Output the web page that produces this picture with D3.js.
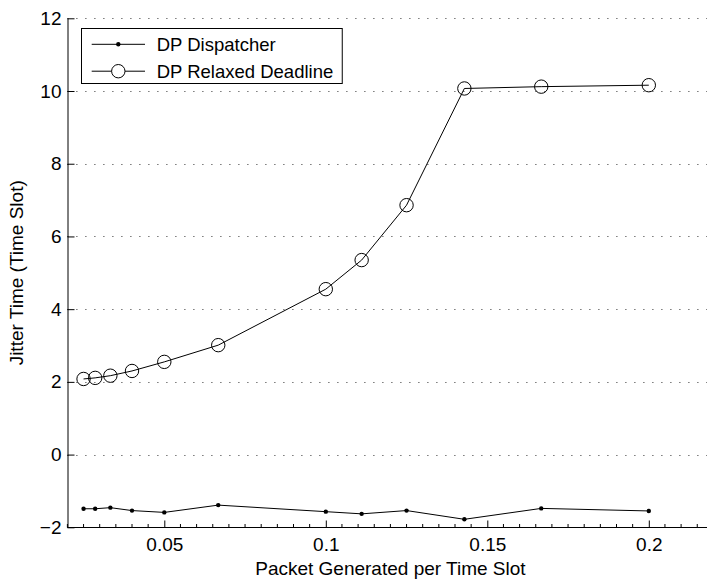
<!DOCTYPE html>
<html>
<head>
<meta charset="utf-8">
<script src="https://cdn.jsdelivr.net/npm/d3@7"></script>
<style>
  body { margin: 0; background: #fff; }
  text { font-family: "Liberation Sans", Arial, sans-serif; fill: #000; }
</style>
</head>
<body>
<div id="chart"></div>
<script>
// Jitter time vs packet generation rate (MATLAB-style line plot)

// Data
const rates = [0.025, 0.0286, 0.0333, 0.04, 0.05, 0.0667, 0.1, 0.1111, 0.125, 0.1429, 0.1667, 0.2];
const dispatcher = [-1.49, -1.49, -1.46, -1.54, -1.59, -1.39, -1.57, -1.63, -1.54, -1.78, -1.48, -1.55];
const relaxed = [2.08, 2.11, 2.17, 2.30, 2.55, 3.01, 4.55, 5.35, 6.86, 10.07, 10.12, 10.16];
const seriesNames = ["DP Dispatcher", "DP Relaxed Deadline"];
const xTicks = [0.05, 0.1, 0.15, 0.2];
const xTickLabels = ["0.05", "0.1", "0.15", "0.2"];
const yTicks = [-2, 0, 2, 4, 6, 8, 10, 12];

// Chart dimensions
const width = 707;
const height = 582;
const plotLeft = 67.4, plotRight = 713.4, plotTop = 18.3, plotBottom = 527.3;
const fontSize = 19;

const graph = d3.create("svg")
    .attr("width", width)
    .attr("height", height);

// Scales
const xscale = d3.scaleLinear().domain([0.02, 0.22]).range([plotLeft, plotRight]);
const yscale = d3.scaleLinear().domain([-2, 12]).range([plotBottom, plotTop]);

// Dotted horizontal grid
graph.append("g")
    .selectAll("line")
    .data(yTicks)
    .join("line")
    .attr("x1", plotLeft)
    .attr("x2", width)
    .attr("y1", d => Math.round(yscale(d)) + 0.5)
    .attr("y2", d => Math.round(yscale(d)) + 0.5)
    .attr("stroke", "#333")
    .attr("stroke-width", 1)
    .attr("stroke-dasharray", "1,8");

// x axis: ticks point inward (up), plus minor ticks
const xAxis = graph.append("g")
    .attr("transform", `translate(0, ${Math.round(plotBottom) + 0.5})`)
    .call(d3.axisBottom(xscale)
        .tickValues(xTicks)
        .tickFormat((d, i) => xTickLabels[i])
        .tickSizeInner(-7)
        .tickSizeOuter(0)
        .tickPadding(10));
xAxis.select(".domain").attr("d", `M${plotLeft},0H${width}`).attr("stroke", "#000");
xAxis.selectAll("text").attr("font-size", fontSize).attr("font-family", null);

const minor = d3.range(0.02, 0.2201, 0.005).filter(v => !xTicks.some(t => Math.abs(t - v) < 1e-6));
xAxis.selectAll(".minor")
    .data(minor)
    .join("line")
    .attr("class", "minor")
    .attr("x1", d => xscale(d))
    .attr("x2", d => xscale(d))
    .attr("y1", 0)
    .attr("y2", -3.5)
    .attr("stroke", "#000");

// y axis
const yAxis = graph.append("g")
    .attr("transform", `translate(${Math.round(plotLeft) + 0.5},0)`)
    .call(d3.axisLeft(yscale)
        .tickValues(yTicks)
        .tickSizeInner(-7)
        .tickSizeOuter(0)
        .tickPadding(6));
yAxis.select(".domain").attr("stroke", "#000");
yAxis.selectAll("text").attr("font-size", fontSize).attr("font-family", null);

// Axis titles
graph.append("text")
    .attr("x", (plotLeft + plotRight) / 2)
    .attr("y", 575)
    .attr("text-anchor", "middle")
    .attr("font-size", fontSize)
    .text("Packet Generated per Time Slot");

graph.append("text")
    .attr("transform", `translate(23, ${(plotTop + plotBottom) / 2}) rotate(-90)`)
    .attr("text-anchor", "middle")
    .attr("font-size", fontSize)
    .text("Jitter Time (Time Slot)");

// Lines
const line = d3.line()
    .x((d, i) => xscale(rates[i]))
    .y(d => yscale(d));

graph.append("path")
    .attr("fill", "none")
    .attr("stroke", "#000")
    .attr("stroke-width", 1)
    .attr("d", line(dispatcher));

graph.append("path")
    .attr("fill", "none")
    .attr("stroke", "#000")
    .attr("stroke-width", 1)
    .attr("d", line(relaxed));

// Markers
graph.append("g")
    .selectAll("circle")
    .data(dispatcher)
    .join("circle")
    .attr("cx", (d, i) => xscale(rates[i]))
    .attr("cy", d => yscale(d))
    .attr("r", 2.2)
    .attr("fill", "#000");

graph.append("g")
    .selectAll("circle")
    .data(relaxed)
    .join("circle")
    .attr("cx", (d, i) => xscale(rates[i]))
    .attr("cy", d => yscale(d))
    .attr("r", 6.7)
    .attr("fill", "none")
    .attr("stroke", "#000")
    .attr("stroke-width", 1);

// Legend
const legend = graph.append("g");
const box = legend.append("rect")
    .attr("x", 81.5)
    .attr("y", 28.5)
    .attr("height", 55)
    .attr("fill", "#fff")
    .attr("stroke", "#000")
    .attr("stroke-width", 1);

const rowY = [44.3, 71.2];
seriesNames.forEach((name, i) => {
    legend.append("line")
        .attr("x1", 91.7).attr("x2", 145)
        .attr("y1", rowY[i]).attr("y2", rowY[i])
        .attr("stroke", "#000");
    if (i === 0) {
        legend.append("circle").attr("cx", 118.3).attr("cy", rowY[i]).attr("r", 2.2).attr("fill", "#000");
    } else {
        legend.append("circle").attr("cx", 118.3).attr("cy", rowY[i]).attr("r", 6.7)
            .attr("fill", "#fff").attr("stroke", "#000");
    }
    legend.append("text")
        .attr("x", 156.7)
        .attr("y", rowY[i])
        .attr("dy", "0.35em")
        .attr("font-size", 18.5)
        .text(name);
});

document.getElementById("chart").append(graph.node());

// legend box width depends on the rendered text
box.attr("width", legend.selectAll("text").nodes()
    .reduce((m, n) => Math.max(m, 156.7 + n.getComputedTextLength()), 0) + 9 - 81.5);
</script>
</body>
</html>
